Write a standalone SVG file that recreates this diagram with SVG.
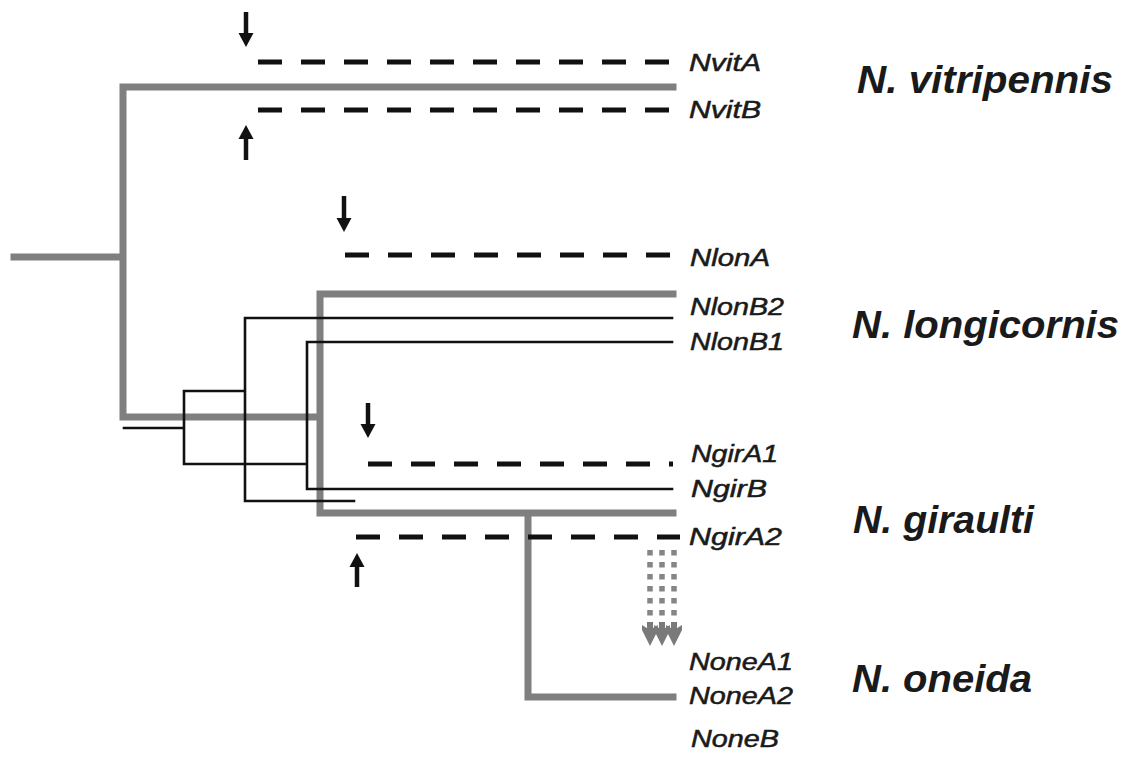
<svg xmlns="http://www.w3.org/2000/svg" width="1132" height="757" viewBox="0 0 1132 757">
  <style>
    .gray { stroke: #7f7f7f; stroke-width: 7; fill: none; stroke-linecap: square; stroke-linejoin: miter; }
    .blk { stroke: #111; stroke-width: 2.6; fill: none; stroke-linecap: square; }
    .dash { stroke: #111; stroke-width: 5; fill: none; stroke-dasharray: 24 19; }
    .arrow { stroke: #111; stroke-width: 4.5; fill: none; }
    .ahead { fill: #111; }
    .dots { stroke: #858585; stroke-width: 5.5; fill: none; stroke-dasharray: 5.5 6.5; }
    .ghead { fill: #7a7a7a; }
    .lbl { font-family: "Liberation Sans", Arial, sans-serif; font-style: italic; font-weight: normal; font-size: 23px; fill: #1a1a1a; stroke: #1a1a1a; stroke-width: 0.5; }
    .sp { font-family: "Liberation Sans", Arial, sans-serif; font-style: italic; font-weight: bold; font-size: 38px; fill: #1a1a1a; }
  </style>

  <g id="connectors">
    <!-- gray species tree -->
    <path class="gray" d="M14,257 H123 M123,87 V417 M123,87 H673 M123,417 H320 M320,294 V513 M320,294 H673 M320,513 H673 M528,513 V697 H673"/>
    <!-- black gene tree -->
    <path class="blk" d="M124,428 H184 M184,391 V464 M184,391 H245 M184,464 H307 M245,318 V501 M245,318 H672 M245,501 H354 M307,342 V489 M307,342 H672 M307,489 H672"/>
    <!-- dashed lines -->
    <line class="dash" x1="258" y1="62" x2="673" y2="62"/>
    <line class="dash" x1="258" y1="110" x2="673" y2="110"/>
    <line class="dash" x1="345" y1="255" x2="673" y2="255"/>
    <line class="dash" x1="368" y1="464" x2="673" y2="464"/>
    <line class="dash" x1="356" y1="537" x2="680" y2="537"/>
    <!-- arrows -->
    <g id="arrow-nvitA"><line x1="246" y1="12" x2="246" y2="36" class="arrow"/><path class="ahead" d="M238.5,33 L253.5,33 L246,47 Z"/></g>
    <g id="arrow-nvitB"><line x1="246" y1="160" x2="246" y2="136" class="arrow"/><path class="ahead" d="M238.5,139 L253.5,139 L246,125 Z"/></g>
    <g id="arrow-nlonA"><line x1="344" y1="196" x2="344" y2="221" class="arrow"/><path class="ahead" d="M336.5,218 L351.5,218 L344,232 Z"/></g>
    <g id="arrow-ngirA1"><line x1="368" y1="403" x2="368" y2="427" class="arrow"/><path class="ahead" d="M360.5,424 L375.5,424 L368,438 Z"/></g>
    <g id="arrow-ngirA2"><line x1="357" y1="587" x2="357" y2="564" class="arrow"/><path class="ahead" d="M349.5,567 L364.5,567 L357,553 Z"/></g>
    <!-- dotted gray arrows -->
    <g id="dotted-arrows">
      <line class="dots" x1="650" y1="550" x2="650" y2="622"/>
      <line class="dots" x1="662" y1="550" x2="662" y2="622"/>
      <line class="dots" x1="674" y1="550" x2="674" y2="622"/>
      <path class="ghead" d="M642,625 L650,630 L658,625 L658,630 L650,646 L642,630 Z"/>
      <path class="ghead" d="M654,625 L662,630 L670,625 L670,630 L662,646 L654,630 Z"/>
      <path class="ghead" d="M666,625 L674,630 L682,625 L682,630 L674,646 L666,630 Z"/>
      <rect class="ghead" x="647" y="622" width="6" height="10"/>
      <rect class="ghead" x="659" y="622" width="6" height="10"/>
      <rect class="ghead" x="671" y="622" width="6" height="10"/>
    </g>
  </g>

  <g id="NvitA"><text class="lbl" x="689" y="71" textLength="72" lengthAdjust="spacingAndGlyphs">NvitA</text></g>
  <g id="NvitB"><text class="lbl" x="689" y="118" textLength="72" lengthAdjust="spacingAndGlyphs">NvitB</text></g>
  <g id="NlonA"><text class="lbl" x="690" y="266" textLength="80" lengthAdjust="spacingAndGlyphs">NlonA</text></g>
  <g id="NlonB2"><text class="lbl" x="690" y="315" textLength="94" lengthAdjust="spacingAndGlyphs">NlonB2</text></g>
  <g id="NlonB1"><text class="lbl" x="690" y="350" textLength="94" lengthAdjust="spacingAndGlyphs">NlonB1</text></g>
  <g id="NgirA1"><text class="lbl" x="691" y="462" textLength="87" lengthAdjust="spacingAndGlyphs">NgirA1</text></g>
  <g id="NgirB"><text class="lbl" x="691" y="497" textLength="76" lengthAdjust="spacingAndGlyphs">NgirB</text></g>
  <g id="NgirA2"><text class="lbl" x="689" y="545" textLength="93" lengthAdjust="spacingAndGlyphs">NgirA2</text></g>
  <g id="NoneA1"><text class="lbl" x="689" y="670" textLength="104" lengthAdjust="spacingAndGlyphs">NoneA1</text></g>
  <g id="NoneA2"><text class="lbl" x="689" y="704" textLength="104" lengthAdjust="spacingAndGlyphs">NoneA2</text></g>
  <g id="NoneB"><text class="lbl" x="691" y="747" textLength="88" lengthAdjust="spacingAndGlyphs">NoneB</text></g>

  <g id="sp-vitripennis"><text class="sp" x="857" y="93" textLength="256" lengthAdjust="spacingAndGlyphs">N. vitripennis</text></g>
  <g id="sp-longicornis"><text class="sp" x="852" y="338" textLength="267" lengthAdjust="spacingAndGlyphs">N. longicornis</text></g>
  <g id="sp-giraulti"><text class="sp" x="853" y="533" textLength="181" lengthAdjust="spacingAndGlyphs">N. giraulti</text></g>
  <g id="sp-oneida"><text class="sp" x="852" y="692" textLength="180" lengthAdjust="spacingAndGlyphs">N. oneida</text></g>
</svg>
